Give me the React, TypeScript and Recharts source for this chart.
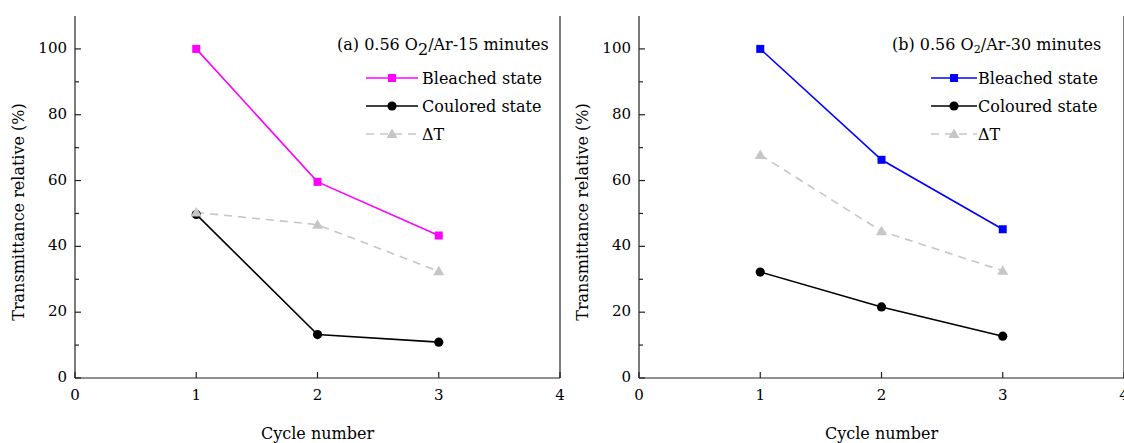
import { Legend, Line, LineChart, XAxis, YAxis, Label } from "recharts";

const CYCLES = [1, 2, 3];

const BLEACHED_15 = [100, 59.6, 43.3];
const COLOURED_15 = [49.7, 13.2, 10.9];
const DELTA_15 = [50.3, 46.6, 32.4];

const BLEACHED_30 = [100, 66.3, 45.2];
const COLOURED_30 = [32.2, 21.6, 12.7];
const DELTA_30 = [67.8, 44.6, 32.6];

const X_TICKS = [0, 1, 2, 3, 4];
const Y_TICKS = [0, 10, 20, 30, 40, 50, 60, 70, 80, 90, 100];

const FONT = '"DejaVu Serif", "Liberation Serif", serif';
const AXIS = "#222";
const GREY = "#c6c6c6";

type Marker = "square" | "circle" | "triangle";

type Series = {
  key: string;
  name: string;
  color: string;
  marker: Marker;
  dash?: string;
};

function MarkerShape({ kind, cx, cy, color }: { kind: Marker; cx: number; cy: number; color: string }) {
  if (kind === "square") return <rect x={cx - 4} y={cy - 4} width={8} height={8} fill={color} />;
  if (kind === "circle") return <circle cx={cx} cy={cy} r={4.6} fill={color} />;
  return <polygon points={`${cx},${cy - 5.5} ${cx - 5.5},${cy + 4} ${cx + 5.5},${cy + 4}`} fill={color} />;
}

function LeftTick(props: any) {
  const { x, y, payload } = props;
  const major = payload.value % 20 === 0;
  return (
    <g>
      <line x1={x} x2={x + (major ? 6 : 4)} y1={y} y2={y} stroke={AXIS} strokeWidth={1.2} />
      {major && (
        <text x={x - 8} y={y + 4} textAnchor="end" fontFamily={FONT} fontSize={15} fill="#000">
          {payload.value}
        </text>
      )}
    </g>
  );
}

function RightTick(props: any) {
  const { x, y, payload } = props;
  const major = payload.value % 20 === 0;
  return <line x1={x} x2={x - (major ? 6 : 4)} y1={y} y2={y} stroke={AXIS} strokeWidth={1.2} />;
}

function BottomTick(props: any) {
  const { x, y, payload } = props;
  return (
    <g>
      <line x1={x} x2={x} y1={y} y2={y - 6} stroke={AXIS} strokeWidth={1.2} />
      <text x={x} y={y + 22} textAnchor="middle" fontFamily={FONT} fontSize={15} fill="#000">
        {payload.value}
      </text>
    </g>
  );
}

type PanelProps = {
  tag: string;
  minutes: string;
  subSize: string;
  bleached: number[];
  coloured: number[];
  delta: number[];
  bleachedColor: string;
  colouredName: string;
  legendLeft: number;
  iconOffset: number;
  iconWidth: number;
  iconGap: number;
};

function Panel(p: PanelProps) {
  const data = CYCLES.map((c, i) => ({
    cycle: c,
    bleached: p.bleached[i],
    coloured: p.coloured[i],
    delta: p.delta[i]
  }));

  const series: Series[] = [
    { key: "bleached", name: "Bleached state", color: p.bleachedColor, marker: "square" },
    { key: "coloured", name: p.colouredName, color: "#000", marker: "circle" },
    { key: "delta", name: "\u0394T", color: GREY, marker: "triangle", dash: "8 6" }
  ];

  const legend = () => (
    <div style={{ fontFamily: FONT, fontSize: 16, color: "#000", whiteSpace: "nowrap" }}>
      <div style={{ height: 20, lineHeight: "20px" }}>
        ({p.tag}) 0.56 O
        <span style={{ fontSize: p.subSize, position: "relative", top: "0.3em" }}>2</span>/Ar-{p.minutes} minutes
      </div>
      <div style={{ height: 9 }} />
      {series.map((s) => (
        <div key={s.key} style={{ display: "flex", alignItems: "center", height: 28, paddingLeft: p.iconOffset }}>
          <svg width={p.iconWidth} height={28} style={{ marginRight: p.iconGap }}>
            <line
              x1={0}
              x2={p.iconWidth}
              y1={14}
              y2={14}
              stroke={s.color}
              strokeWidth={1.6}
              strokeDasharray={s.dash}
            />
            <MarkerShape kind={s.marker} cx={p.iconWidth / 2} cy={14} color={s.color} />
          </svg>
          <span>{s.name}</span>
        </div>
      ))}
    </div>
  );

  return (
    <LineChart width={565} height={443} data={data} margin={{ top: 16, right: 0, bottom: 0, left: 0 }}>
      <XAxis
        dataKey="cycle"
        type="number"
        domain={[0, 4]}
        ticks={X_TICKS}
        tick={<BottomTick />}
        tickLine={false}
        tickSize={0}
        tickMargin={0}
        height={65}
        stroke={AXIS}
        strokeWidth={1.2}
      >
        <Label
          value="Cycle number"
          position="insideBottom"
          offset={4}
          style={{ fontFamily: FONT, fontSize: 16, fill: "#000" }}
        />
      </XAxis>
      <XAxis
        xAxisId="top"
        orientation="top"
        type="number"
        domain={[0, 4]}
        height={0}
        tick={false}
        tickLine={false}
        stroke={AXIS}
        strokeWidth={1.2}
      />
      <YAxis
        type="number"
        domain={[0, 110]}
        ticks={Y_TICKS}
        tick={<LeftTick />}
        tickLine={false}
        tickSize={0}
        tickMargin={0}
        width={75}
        stroke={AXIS}
        strokeWidth={1.2}
      >
        <Label
          value="Transmittance relative (%)"
          angle={-90}
          position="center"
          dx={-19}
          dy={15}
          style={{ fontFamily: FONT, fontSize: 16, fill: "#000" }}
        />
      </YAxis>
      <YAxis
        yAxisId="right"
        orientation="right"
        type="number"
        domain={[0, 110]}
        ticks={Y_TICKS}
        tick={<RightTick />}
        tickLine={false}
        tickSize={0}
        tickMargin={0}
        width={5}
        stroke={AXIS}
        strokeWidth={1.2}
      />
      <Legend
        layout="vertical"
        align="center"
        verticalAlign="middle"
        content={legend}
        wrapperStyle={{ left: p.legendLeft, top: 35, width: "auto" }}
      />
      {series.map((s) => (
        <Line
          key={s.key}
          dataKey={s.key}
          name={s.name}
          stroke={s.color}
          strokeWidth={1.6}
          strokeDasharray={s.dash}
          isAnimationActive={false}
          activeDot={false}
          dot={(d: any) => <MarkerShape key={`${s.key}-${d.index}`} kind={s.marker} cx={d.cx} cy={d.cy} color={s.color} />}
        />
      ))}
    </LineChart>
  );
}

export default function App() {
  return (
    <div
      style={{
        position: "absolute",
        left: 0,
        top: 0,
        width: 1124,
        height: 443,
        overflow: "hidden",
        background: "#fff"
      }}
    >
      <div style={{ position: "absolute", left: 0, top: 0 }}>
        <Panel
          tag="a"
          minutes="15"
          subSize="1em"
          bleached={BLEACHED_15}
          coloured={COLOURED_15}
          delta={DELTA_15}
          bleachedColor="#ff00ff"
          colouredName="Coulored state"
          legendLeft={337}
          iconOffset={29}
          iconWidth={52}
          iconGap={4}
        />
      </div>
      <div style={{ position: "absolute", left: 564, top: 0 }}>
        <Panel
          tag="b"
          minutes="30"
          subSize="0.7em"
          bleached={BLEACHED_30}
          coloured={COLOURED_30}
          delta={DELTA_30}
          bleachedColor="#0000ff"
          colouredName="Coloured state"
          legendLeft={328}
          iconOffset={39}
          iconWidth={46}
          iconGap={1}
        />
      </div>
    </div>
  );
}
